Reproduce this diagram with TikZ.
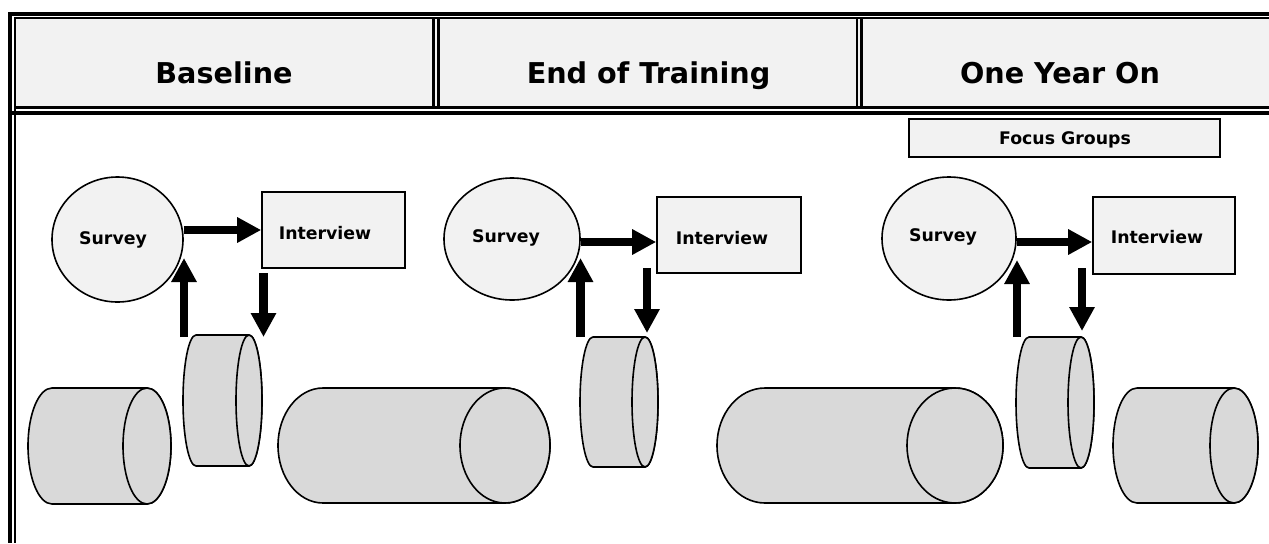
\documentclass[tikz,border=0pt]{standalone}
\usepackage{fontspec}
\setmainfont{DejaVu Sans}
\usetikzlibrary{arrows.meta,shapes.geometric}
\definecolor{cellgray}{HTML}{F2F2F2}
\definecolor{cylgray}{HTML}{D9D9D9}
\newcommand\upx{0.75pt}
% horizontal drum: left cap centre x, right cap centre x, centre y (down), x radius, y radius
\newcommand\drum[5]{%
  \draw[cylline] (#1,-#3+#5) -- (#2,-#3+#5)
    arc[start angle=90,end angle=-90,x radius=#4,y radius=#5]
    -- (#1,-#3-#5)
    arc[start angle=270,end angle=90,x radius=#4,y radius=#5] -- cycle;
  \draw[cylline] (#2,-#3) ellipse[x radius=#4,y radius=#5];}
\begin{document}
\begin{tikzpicture}[x=0.75pt,y=0.75pt,
  survey/.style={ellipse, draw, line width=1.2pt, fill=cellgray, inner sep=0pt},
  ivbox/.style={rectangle, draw, line width=1.2pt, fill=cellgray, inner sep=0pt},
  lbl/.style={font=\fontsize{13}{15}\selectfont\bfseries, inner sep=0pt},
  head/.style={font=\fontsize{21.5}{26}\selectfont\bfseries, inner sep=0pt, anchor=base},
  fat/.style={line width=6.5pt, -{Triangle[length=18pt,width=18pt]}},
  cylline/.style={line width=1.2pt, fill=cylgray, line join=round},
  outerline/.style={line width=3pt},
  innerline/.style={line width=1.6pt}]
\useasboundingbox (0,0) rectangle (1269,-543);

% table header and frame
\fill[cellgray] (14,-18) rectangle (1269,-107);
\draw[outerline] (8,-13.5) -- (1269,-13.5);
\draw[outerline] (10,-12) -- (10,-543);
\draw[outerline] (8,-113) -- (1269,-113);
\draw[innerline] (14,-18) -- (1269,-18);
\draw[line width=2.2pt] (14,-107.5) -- (1269,-107.5);
\draw[innerline] (15,-18) -- (15,-543);
\draw[line width=2.2pt] (433.5,-18) -- (433.5,-107.5);
\draw[line width=2.2pt] (438.5,-18) -- (438.5,-107.5);
\draw[line width=2.2pt] (857,-18) -- (857,-107.5);
\draw[line width=2.2pt] (861.5,-18) -- (861.5,-107.5);

\node[head] (h1) at (224,-83) {Baseline};
\node[head] (h2) at (648.5,-83) {End of Training};
\node[head] (h3) at (1060,-83) {One Year On};

% focus groups
\node[ivbox, minimum width=311*\upx, minimum height=38*\upx] (fg) at (1064.5,-138) {};
\node[lbl] (fgt) at (1065,-140) {Focus Groups};

% drums
\drum{52}{147}{446}{24}{58}
\drum{196}{249}{400.5}{13}{65.5}
\drum{323}{505}{445.5}{45}{57.5}
\drum{593}{645}{402}{13}{65}
\drum{765}{955}{445.5}{48}{57.5}
\drum{1029}{1081}{402.5}{13}{65.5}
\drum{1137}{1234}{445.5}{24}{57.5}

% column 1
\node[survey, minimum width=131*\upx, minimum height=125*\upx] (sv1) at (117.5,-239.5) {};
\node[lbl] (svt1) at (113,-240) {Survey};
\node[ivbox, minimum width=143*\upx, minimum height=76*\upx] (iv1) at (333.5,-230) {};
\node[lbl] (ivt1) at (325,-233) {Interview};
\draw[fat] (sv1.east |- iv1.west) -- (iv1.west);
\coordinate (u1s) at (184,-337); \coordinate (u1e) at (184,-258);
\coordinate (d1s) at (263.5,-273); \coordinate (d1e) at (263.5,-337);
\draw[fat] (u1s) -- (u1e);
\draw[fat] (d1s) -- (d1e);

% column 2
\node[survey, minimum width=136*\upx, minimum height=122*\upx] (sv2) at (512,-239) {};
\node[lbl] (svt2) at (506,-238) {Survey};
\node[ivbox, minimum width=144*\upx, minimum height=76*\upx] (iv2) at (729,-235) {};
\node[lbl] (ivt2) at (722,-238) {Interview};
\coordinate (a2) at ([yshift=-7*\upx]iv2.west);
\draw[fat] (sv2.east |- a2) -- (a2);
\coordinate (u2s) at (580.5,-337); \coordinate (u2e) at (580.5,-258);
\coordinate (d2s) at (647,-268); \coordinate (d2e) at (647,-333);
\draw[fat] (u2s) -- (u2e);
\draw[fat] (d2s) -- (d2e);

% column 3
\node[survey, minimum width=134*\upx, minimum height=123*\upx] (sv3) at (949,-238.5) {};
\node[lbl] (svt3) at (943,-237) {Survey};
\node[ivbox, minimum width=142*\upx, minimum height=77*\upx] (iv3) at (1164,-235.5) {};
\node[lbl] (ivt3) at (1157,-237) {Interview};
\coordinate (a3) at ([yshift=-6.5*\upx]iv3.west);
\draw[fat] (sv3.east |- a3) -- (a3);
\coordinate (u3s) at (1017,-337); \coordinate (u3e) at (1017,-260);
\coordinate (d3s) at (1082,-268); \coordinate (d3e) at (1082,-331);
\draw[fat] (u3s) -- (u3e);
\draw[fat] (d3s) -- (d3e);
\end{tikzpicture}
\end{document}
